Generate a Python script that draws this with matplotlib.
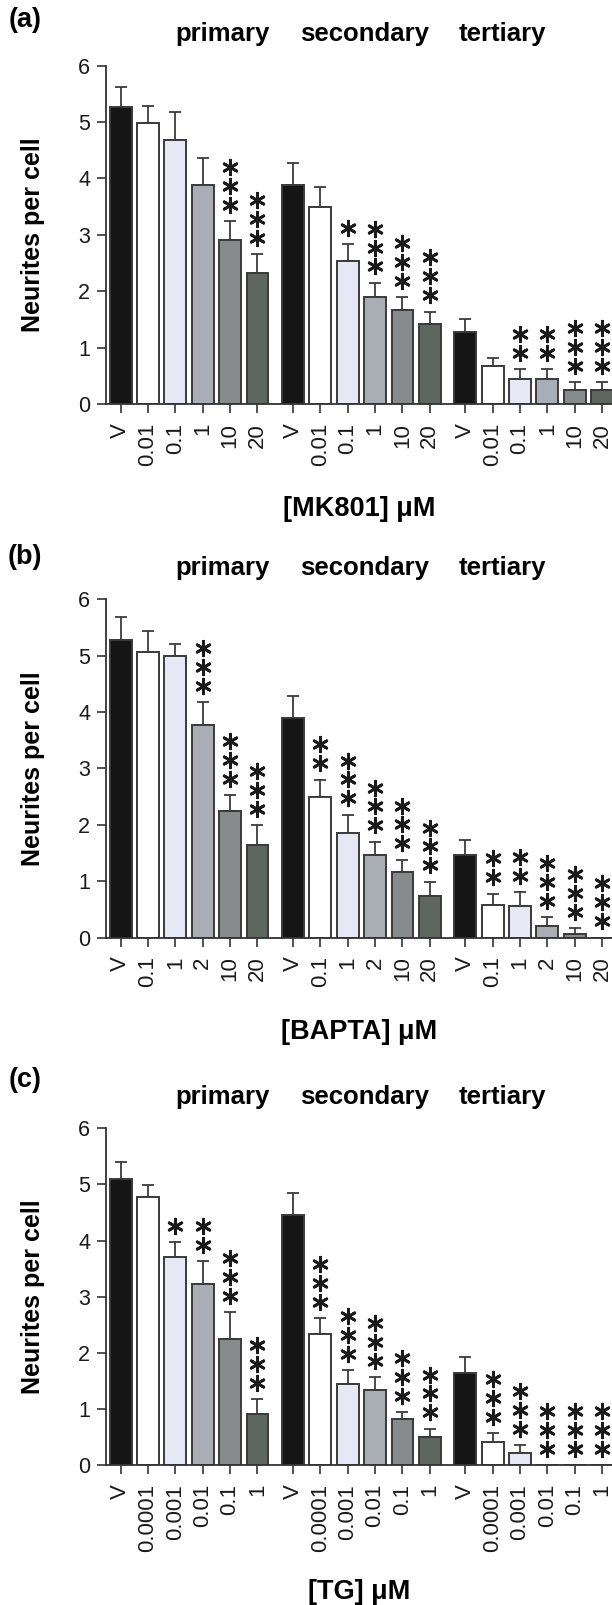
import matplotlib
matplotlib.use("Agg")
import matplotlib.pyplot as plt

plt.rcParams['font.family'] = ['Liberation Sans', 'DejaVu Sans']

# groups and dose labels
groups = ['primary', 'secondary', 'tertiary']
mk801_doses = ['V', '0.01', '0.1', '1', '10', '20']
bapta_doses = ['V', '0.1', '1', '2', '10', '20']
tg_doses = ['V', '0.0001', '0.001', '0.01', '0.1', '1']

# MK801 (a)
mk801_primary = [5.26, 4.99, 4.68, 3.88, 2.90, 2.32]
mk801_primary_err = [0.36, 0.30, 0.50, 0.49, 0.34, 0.34]
mk801_secondary = [3.89, 3.49, 2.54, 1.89, 1.67, 1.42]
mk801_secondary_err = [0.39, 0.35, 0.29, 0.26, 0.23, 0.22]
mk801_tertiary = [1.27, 0.68, 0.44, 0.44, 0.25, 0.25]
mk801_tertiary_err = [0.24, 0.13, 0.18, 0.18, 0.14, 0.14]
mk801_stars = [[0, 0, 0, 0, 3, 3], [0, 0, 1, 3, 3, 3], [0, 0, 2, 2, 3, 3]]

# BAPTA (b)
bapta_primary = [5.28, 5.07, 4.99, 3.77, 2.24, 1.64]
bapta_primary_err = [0.41, 0.37, 0.21, 0.40, 0.29, 0.35]
bapta_secondary = [3.90, 2.49, 1.86, 1.46, 1.17, 0.74]
bapta_secondary_err = [0.38, 0.31, 0.32, 0.24, 0.21, 0.25]
bapta_tertiary = [1.46, 0.58, 0.56, 0.21, 0.07, 0.0]
bapta_tertiary_err = [0.27, 0.20, 0.24, 0.15, 0.10, 0.0]
bapta_stars = [[0, 0, 0, 3, 3, 3], [0, 2, 3, 3, 3, 3], [0, 2, 2, 3, 3, 3]]

# TG (c)
tg_primary = [5.10, 4.77, 3.71, 3.23, 2.25, 0.91]
tg_primary_err = [0.30, 0.22, 0.26, 0.40, 0.48, 0.26]
tg_secondary = [4.46, 2.33, 1.44, 1.33, 0.82, 0.50]
tg_secondary_err = [0.38, 0.29, 0.25, 0.24, 0.12, 0.15]
tg_tertiary = [1.64, 0.41, 0.22, 0.0, 0.0, 0.0]
tg_tertiary_err = [0.28, 0.16, 0.14, 0.0, 0.0, 0.0]
tg_stars = [[0, 0, 1, 2, 3, 3], [0, 3, 3, 3, 3, 3], [0, 3, 3, 3, 3, 3]]

bar_colors = ['#151515', '#ffffff', '#e6e8f5', '#a9adb4', '#878b8b', '#5e675f']
EDGE = '#3a3a3a'
GROUP_STEP = 6.3

panels = [
    ('(a)', '[MK801] \u03bcM', mk801_doses,
     [mk801_primary, mk801_secondary, mk801_tertiary],
     [mk801_primary_err, mk801_secondary_err, mk801_tertiary_err], mk801_stars,
     404.0, 65.7, 20, 509),
    ('(b)', '[BAPTA] \u03bcM', bapta_doses,
     [bapta_primary, bapta_secondary, bapta_tertiary],
     [bapta_primary_err, bapta_secondary_err, bapta_tertiary_err], bapta_stars,
     937.5, 599.3, 557, 1032),
    ('(c)', '[TG] \u03bcM', tg_doses,
     [tg_primary, tg_secondary, tg_tertiary],
     [tg_primary_err, tg_secondary_err, tg_tertiary_err], tg_stars,
     1465.0, 1128.3, 1080, 1592),
]

W, H = 612, 1605
fig = plt.figure(figsize=(W / 100, H / 100), dpi=100)

for letter, xlab, doses, vals, errs, stars, y0, y6, letter_y, xlab_y in panels:
    ax = fig.add_axes([106 / W, (H - y0) / H, (W - 106) / W, (y0 - y6) / H])

    xs, hs, es, cols, labs, ns = [], [], [], [], [], []
    for g in range(3):
        for i in range(6):
            xs.append(g * GROUP_STEP + i)
            hs.append(vals[g][i])
            es.append(errs[g][i])
            cols.append(bar_colors[i])
            labs.append(doses[i])
            ns.append(stars[g][i])

    ax.bar(xs, hs, width=0.8, color=cols, edgecolor=EDGE, linewidth=1.4, zorder=2)
    ex = [x for x, h in zip(xs, hs) if h > 0]
    eh = [h for h in hs if h > 0]
    ee = [e for e, h in zip(es, hs) if h > 0]
    ax.errorbar(ex, eh, yerr=[[0] * len(ee), ee], fmt='none', ecolor='#3c3c3c',
                elinewidth=1.3, capsize=4, capthick=1.3, zorder=1)

    # significance stars stacked above each error bar
    for x, h, e, n in zip(xs, hs, es, ns):
        for k in range(n):
            ax.scatter(x, h + e + 0.29 + k * 0.335, marker=(6, 2, 0), s=110,
                       color='#1a1a1a', linewidths=2.0, clip_on=False, zorder=3)

    ax.set_xlim(-0.537, 17.96)
    ax.set_ylim(0, 6)
    ax.set_yticks(range(7))
    ax.set_xticks(xs)
    ax.set_xticklabels(labs, rotation=90)
    for s in ['top', 'right']:
        ax.spines[s].set_visible(False)
    for s in ['left', 'bottom']:
        ax.spines[s].set_color('#333333')
        ax.spines[s].set_linewidth(1.3)
    ax.tick_params(axis='both', direction='out', length=6.5, width=1.2,
                   color='#333333', labelcolor='#1a1a1a')
    ax.tick_params(axis='x', pad=7, labelsize=16)
    ax.tick_params(axis='y', pad=5, labelsize=15.5)

    ax.set_ylabel('Neurites per cell', fontsize=18, fontweight='bold')
    ax.yaxis.set_label_coords(-61 / (W - 106), 0.5)
    ax.set_xlabel(xlab, fontsize=19.5, fontweight='bold')
    ax.xaxis.label.set_va('center')
    ax.xaxis.set_label_coords(0.5, -(xlab_y - y0) / (y0 - y6))

    for name, gx in zip(groups, [3.74, 8.9, 13.94]):
        ax.text(gx, 1.093, name, transform=ax.get_xaxis_transform(),
                ha='center', va='center', fontsize=18.5, fontweight='bold')

    fig.text(25 / W, (H - letter_y) / H, letter, ha='center', va='center',
             fontsize=19.5, fontweight='bold')

fig.savefig('out.png', dpi=100)
